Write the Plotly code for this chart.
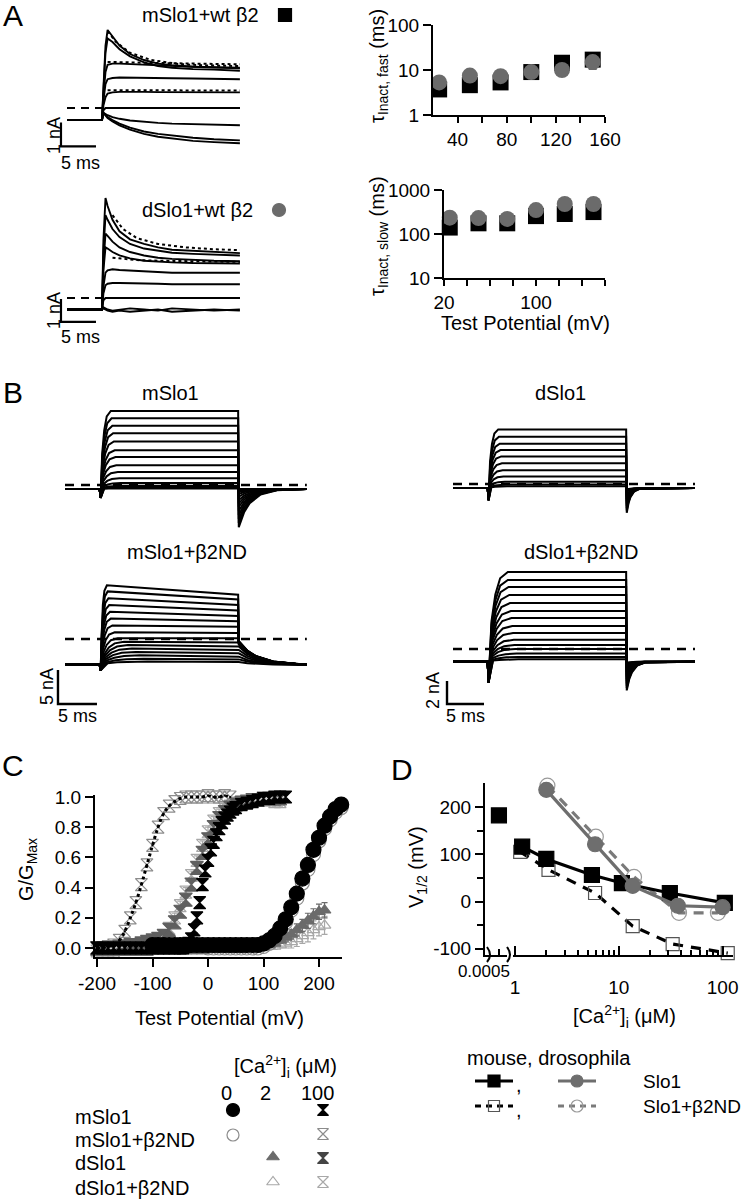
import plotly.graph_objects as go

W, H = 746, 1200
FONT = "Arial, Liberation Sans, Helvetica, sans-serif"
TXT = 20
TICK = 19

# ================= DATA =================
# ---- Panel A: example current traces (time ms, current nA) ----
A_time = [0, 5.0, 5.2, 5.5, 5.8, 6.5, 7.5, 9, 11, 13, 15, 18, 21, 24.7]
A_mslo1_wtb2 = [
    [-0.5, -0.5, 0.8, 2.6, 3.25, 3.0, 2.6, 2.25, 2.0, 1.85, 1.78, 1.72, 1.7, 1.65],
    [-0.5, -0.5, 0.7, 2.3, 2.9, 2.75, 2.45, 2.15, 1.9, 1.75, 1.68, 1.62, 1.6, 1.55],
    [-0.5, -0.5, 0.5, 1.5, 1.8, 1.85, 1.85, 1.83, 1.8, 1.78, 1.75, 1.72, 1.7, 1.68],
    [-0.5, -0.5, 0.3, 1.0, 1.2, 1.25, 1.27, 1.27, 1.25, 1.25, 1.24, 1.23, 1.22, 1.2],
    [-0.5, -0.5, 0.1, 0.45, 0.6, 0.65, 0.67, 0.68, 0.67, 0.66, 0.66, 0.65, 0.65, 0.65],
    [-0.5, -0.5, -0.1, 0.0, 0.0, 0.0, 0.0, 0.0, 0.0, 0.0, 0.0, 0.0, 0.0, 0.0],
    [-0.5, -0.5, -0.2, -0.25, -0.3, -0.38, -0.45, -0.52, -0.58, -0.62, -0.65, -0.68, -0.7, -0.72],
    [-0.5, -0.5, -0.2, -0.3, -0.38, -0.5, -0.65, -0.82, -0.98, -1.08, -1.15, -1.24, -1.3, -1.35],
    [-0.5, -0.5, -0.2, -0.32, -0.42, -0.56, -0.72, -0.9, -1.08, -1.2, -1.28, -1.37, -1.42, -1.47],
]
A_mslo1_fit_t = [5.8, 7, 9, 12, 16, 20, 24.7]
A_mslo1_fits = [
    [3.2, 2.75, 2.3, 2.0, 1.83, 1.77, 1.75],
    [1.92, 1.92, 1.9, 1.88, 1.86, 1.84, 1.82],
    [0.74, 0.74, 0.74, 0.73, 0.73, 0.73, 0.73],
]
A_dslo1_wtb2 = [
    [-0.5, -0.5, 2.5, 4.35, 4.0, 3.4, 2.9, 2.55, 2.35, 2.2, 2.1, 2.05, 2.0, 1.95],
    [-0.5, -0.5, 2.0, 3.6, 3.4, 3.0, 2.65, 2.35, 2.15, 2.05, 1.97, 1.92, 1.9, 1.85],
    [-0.5, -0.5, 1.5, 2.8, 2.7, 2.45, 2.2, 2.0, 1.85, 1.75, 1.7, 1.65, 1.62, 1.6],
    [-0.5, -0.5, 1.2, 2.2, 2.15, 2.0, 1.85, 1.72, 1.62, 1.57, 1.55, 1.52, 1.5, 1.5],
    [-0.5, -0.5, 0.5, 1.1, 1.2, 1.25, 1.22, 1.2, 1.18, 1.15, 1.1, 1.1, 1.1, 1.1],
    [-0.5, -0.5, 0.2, 0.55, 0.62, 0.65, 0.65, 0.65, 0.63, 0.62, 0.6, 0.6, 0.6, 0.6],
    [-0.5, -0.5, -0.1, 0.0, 0.0, 0.0, 0.0, 0.0, 0.0, 0.0, 0.0, 0.0, 0.0, 0.0],
    [-0.5, -0.5, -0.4, -0.45, -0.5, -0.55, -0.5, -0.45, -0.5, -0.55, -0.45, -0.5, -0.55, -0.5],
    [-0.5, -0.5, -0.45, -0.5, -0.55, -0.6, -0.55, -0.6, -0.55, -0.5, -0.6, -0.55, -0.5, -0.55],
]
A_dslo1_fit_t = [6.5, 8, 10, 13, 17, 21, 24.7]
A_dslo1_fits = [
    [3.6, 3.0, 2.6, 2.35, 2.2, 2.12, 2.08],
    [1.75, 1.7, 1.65, 1.62, 1.6, 1.58, 1.57],
]

# ---- Panel A: inactivation time constants ----
tau_V = [25, 50, 75, 100, 125, 150]
tau_fast_mslo1 = [3.7, 4.6, 5.3, 9.0, 14.5, 17.0]
tau_fast_dslo1 = [5.3, 7.5, 7.3, 9.0, 10.0, 15.0]
tau_fast_dslo1_err = [0.3, 0.5, 0.5, 0.5, 0.6, 4.5]
tau_slow_mslo1 = [140, 175, 175, 255, 285, 315]
tau_slow_dslo1 = [235, 230, 220, 350, 480, 480]

# ---- Panel B: current families (nA) ----
# protocol: [t_on, t_off, t_end] (ms); hold: [holding level, capacitive dip, tail decay (ms)]
B_mslo1_protocol = [4.49, 22.2, 31.0]
B_mslo1_hold = [-0.6, -1.9, 1.4]
B_mslo1_levels = [10.9, 9.8, 8.7, 7.6, 6.4, 5.1, 4.1, 2.9, 1.9, 1.0, 0.3, -0.1, -0.3, -0.5]
B_mslo1_rise = [1.3, 1.4, 1.5, 1.6, 1.7, 1.8, 1.9, 2.0, 2.2, 2.4, 2.6, 2.8, 3.0, 3.0]
B_mslo1_tail = [-6.2, -5.6, -5.0, -4.4, -3.8, -3.2, -2.7, -2.2, -1.7, -1.3, -1.0, -0.8, -0.7, -0.6]

B_dslo1_protocol = [4.73, 23.4, 32.7]
B_dslo1_hold = [-0.35, -1.4, 0.5]
B_dslo1_levels = [4.75, 4.1, 3.5, 2.95, 2.4, 1.8, 1.2, 0.65, 0.2, -0.05, -0.2]
B_dslo1_rise = [1.3, 1.4, 1.5, 1.6, 1.7, 1.8, 1.9, 2.0, 2.2, 2.4, 2.5]
B_dslo1_tail = [-2.5, -2.3, -2.1, -1.9, -1.7, -1.5, -1.3, -1.1, -0.9, -0.7, -0.5]

B_mnd_protocol = [4.49, 22.2, 31.0]
B_mnd_hold = [-3.8, -4.6, 2.2]
B_mnd_start = [7.9, 7.0, 6.0, 5.0, 4.0, 3.0, 2.0, 1.0, 0.1, -0.4, -0.9, -1.4, -1.9, -2.4, -2.9, -3.3]
B_mnd_end = [6.5, 5.8, 5.0, 4.2, 3.4, 2.6, 1.8, 0.9, 0.1, -0.5, -1.1, -1.6, -2.1, -2.6, -3.0, -3.4]
B_mnd_rise = [0.8, 0.9, 1.0, 1.1, 1.2, 1.3, 1.5, 1.8, 2.2, 3.0, 3.5, 4.0, 4.5, 5.0, 5.5, 6.0]
B_mnd_tail = [-0.3, -0.35, -0.4, -0.45, -0.5, -0.55, -0.6, -0.7, -0.8, -0.5, -1.1, -1.6, -2.1, -2.6, -3.0, -3.4]

B_dnd_protocol = [4.73, 23.4, 32.7]
B_dnd_hold = [-1.1, -2.9, 0.7]
B_dnd_levels = [6.7, 6.0, 5.4, 4.7, 4.0, 3.3, 2.7, 2.0, 1.4, 0.8, 0.35, 0.0, -0.4, -0.7, -0.9]
B_dnd_rise = [2.6, 2.6, 2.7, 2.8, 2.9, 3.0, 3.1, 3.2, 3.3, 3.4, 3.5, 3.6, 3.8, 4.0, 4.0]
B_dnd_tail = [-3.6, -3.4, -3.2, -3.0, -2.8, -2.6, -2.4, -2.2, -2.0, -1.8, -1.6, -1.5, -1.4, -1.3, -1.2]

# shape of activation / tail relaxations (fraction of time, fraction of amplitude)
RISE_T = [0.15, 0.35, 0.6, 1.0]
RISE_F = [0.45, 0.75, 0.93, 1.0]
TAIL_T = [0.0, 0.5, 1.0, 2.0, 3.5]
TAIL_F = [1.0, 0.6, 0.37, 0.14, 0.03]

# ---- Panel C: G/Gmax vs test potential (mV) ----
C_V_m0 = list(range(-100, 250, 10))
C_G_m0 = [0.02, 0.02, 0.02, 0.02, 0.02, 0.02, 0.02, 0.02, 0.02, 0.02, 0.02, 0.02, 0.02, 0.02,
          0.02, 0.02, 0.02, 0.02, 0.02, 0.02, 0.03, 0.05, 0.08, 0.13, 0.19, 0.27, 0.36, 0.46,
          0.55, 0.65, 0.73, 0.81, 0.87, 0.92, 0.95]
C_V_mnd0 = list(range(0, 250, 10))
C_G_mnd0 = [0.0, 0.0, 0.0, 0.0, 0.0, 0.0, 0.0, 0.0, 0.0, 0.0, 0.01, 0.03, 0.06, 0.11, 0.17, 0.25,
            0.33, 0.43, 0.52, 0.62, 0.71, 0.79, 0.85, 0.9, 0.93]
C_V_d2 = list(range(-200, 220, 10))
C_G_d2 = [-0.03, -0.03, -0.03, -0.03, -0.03, -0.03, -0.03, -0.03, -0.03, -0.03,
          -0.02, -0.02, -0.02, -0.02, -0.02, -0.02, -0.02, -0.02, -0.02, -0.02,
          -0.01, -0.01, -0.01, -0.01, -0.01, -0.01, -0.01, 0.0, 0.0, 0.0,
          0.01, 0.02, 0.03, 0.05, 0.07, 0.09, 0.12, 0.15, 0.18, 0.21, 0.24, 0.25]
C_E_d2_high = [0.01, 0.01, 0.02, 0.02, 0.03, 0.03, 0.04, 0.04, 0.05, 0.05, 0.05, 0.05]
C_V_dnd2 = list(range(100, 220, 10))
C_G_dnd2 = [0.0, 0.01, 0.01, 0.02, 0.03, 0.04, 0.06, 0.08, 0.1, 0.12, 0.14, 0.15]
C_E_dnd2 = [0.01, 0.01, 0.02, 0.02, 0.03, 0.04, 0.05, 0.05, 0.06, 0.06, 0.06, 0.06]
C_V_m100 = list(range(-200, -40, 10)) + list(range(-45, 50, 5)) + list(range(50, 150, 10))
C_G_m100 = [0.0, 0.0, 0.0, 0.0, 0.0, 0.0, 0.0, 0.0, 0.0, 0.0, 0.0, 0.0, 0.0, 0.0, 0.0, 0.0,
            0.0, 0.01, 0.03, 0.06, 0.12, 0.2, 0.3, 0.42, 0.51, 0.58, 0.65, 0.7, 0.75, 0.79,
            0.83, 0.86, 0.88, 0.9, 0.92,
            0.93, 0.95, 0.96, 0.97, 0.98, 0.99, 0.99, 1.0, 1.0, 1.0]
C_V_mnd100 = list(range(-200, 50, 10))
C_G_mnd100 = [0.0, 0.0, 0.01, 0.02, 0.05, 0.11, 0.2, 0.3, 0.42, 0.55, 0.68, 0.8, 0.89, 0.94,
              0.97, 0.99, 1.0, 1.0, 1.0, 1.0, 1.01, 1.0, 1.0, 1.01, 1.0]
C_V_d100 = list(range(-200, 140, 10))
C_G_d100 = [0.0, 0.0, 0.0, 0.0, 0.01, 0.01, 0.02, 0.02, 0.03, 0.04, 0.05, 0.06, 0.08, 0.12,
            0.17, 0.24, 0.32, 0.42, 0.53, 0.63, 0.72, 0.8, 0.86, 0.9, 0.93, 0.95, 0.96, 0.97,
            0.98, 0.98, 0.99, 0.99, 0.99, 0.99]
C_V_dnd100 = list(range(-200, 140, 10))
C_G_dnd100 = [-0.02, -0.02, -0.02, -0.02, -0.01, -0.01, 0.0, 0.0, 0.01, 0.02, 0.03, 0.05, 0.08,
              0.13, 0.2, 0.28, 0.37, 0.48, 0.58, 0.68, 0.77, 0.84, 0.89, 0.92, 0.94, 0.96,
              0.97, 0.97, 0.98, 0.98, 0.98, 0.98, 0.97, 0.97]
C_ticks_x = [-200, -100, 0, 100, 200]
C_ticks_y = [0.0, 0.2, 0.4, 0.6, 0.8, 1.0]

# ---- Panel D: V1/2 (mV) vs [Ca2+]i (uM) ----
D_zero_ca = [0.0005]
D_zero_v = [182]
D_mouse_ca = [1.17, 2.0, 5.5, 10.7, 31, 105]
D_mouse_v = [116, 90, 56, 39, 18, -3]
D_mouse_nd_ca = [1.12, 2.1, 5.9, 13.6, 33, 112]
D_mouse_nd_v = [105, 67, 18, -52, -90, -109]
D_dros_ca = [2.0, 5.9, 13.6, 37, 100]
D_dros_v = [236, 121, 33, -9, -12]
D_dros_nd_ca = [2.05, 6.0, 14.0, 38, 90]
D_dros_nd_v = [245, 137, 52, -24, -24]

# ================= FIGURE =================
fig = go.Figure()
L = {}
ann = []
shapes = []


def dx(p0, p1):
    return [p0 / W, p1 / W]


def dy(top, bottom):
    return [1 - bottom / H, 1 - top / H]


def ref(i, k):
    return k + ("" if i == 1 else str(i))


def an(i, k):
    return k + "axis" + ("" if i == 1 else str(i))


def hidden(i, xdom, xrng, ydom, yrng):
    L[an(i, "x")] = dict(domain=xdom, range=xrng, visible=False, anchor=ref(i, "y"),
                         fixedrange=True, automargin=False)
    L[an(i, "y")] = dict(domain=ydom, range=yrng, visible=False, anchor=ref(i, "x"),
                         fixedrange=True, automargin=False)


AX = dict(showline=True, linecolor="black", linewidth=2, ticks="outside", tickwidth=2,
          tickcolor="black", ticklen=7, showgrid=False, zeroline=False, automargin=False,
          tickfont=dict(size=TICK, family=FONT, color="black"), fixedrange=True)


def lines(xs, ys, xa, ya, width=1.6, color="black", dash=None):
    fig.add_trace(go.Scatter(x=xs, y=ys, mode="lines", xaxis=xa, yaxis=ya,
                             line=dict(color=color, width=width, dash=dash),
                             hoverinfo="skip", showlegend=False, cliponaxis=False))


def txt(x, y, s, size=TXT, angle=0, xanchor="center"):
    ann.append(dict(x=x / W, y=1 - y / H, xref="paper", yref="paper", text=s, showarrow=False,
                    textangle=angle, xanchor=xanchor, yanchor="middle",
                    font=dict(size=size, family=FONT, color="black")))


# ---------- Panel A traces ----------
hidden(1, dx(55, 250), [(55 - 67) / 7, (250 - 67) / 7], dy(20, 160), [(108 - 160) / 24, (108 - 20) / 24])
hidden(2, dx(55, 250), [(55 - 67) / 7, (250 - 67) / 7], dy(190, 335), [(298 - 335) / 23, (298 - 190) / 23])

for i, (traces, ft, fits) in enumerate([(A_mslo1_wtb2, A_mslo1_fit_t, A_mslo1_fits),
                                        (A_dslo1_wtb2, A_dslo1_fit_t, A_dslo1_fits)], start=1):
    xa, ya = ref(i, "x"), ref(i, "y")
    lines([0, A_time[-1]], [0, 0], xa, ya, width=2.2, dash="8px 6px")
    for cur in traces:
        lines(A_time, cur, xa, ya, width=1.9)
    for f in fits:
        lines(ft, f, xa, ya, width=2, dash="dot")
    y_top = -0.6 if i == 1 else -0.04
    lines([-0.86, -0.86, 4.14], [y_top, y_top - 1, y_top - 1], xa, ya, width=2.2)

txt(54, 136, "1 nA", size=18, angle=-90)
txt(80, 163, "5 ms", size=18)
txt(54, 311, "1 nA", size=18, angle=-90)
txt(80, 337, "5 ms", size=18)
txt(200, 15, "mSlo1+wt β2")
txt(197, 210, "dSlo1+wt β2")

# ---------- Panel A tau plots ----------
L["xaxis3"] = dict(AX, domain=dx(433, 605), range=[20, 160], anchor="y3",
                   tickvals=[40, 80, 120, 160], ticklen=6,
                   minor=dict(tickvals=[60, 100, 140], ticks="outside", ticklen=6, tickwidth=2, tickcolor="black"))
L["yaxis3"] = dict(AX, domain=dy(25, 115), type="log", range=[0, 2], anchor="x3",
                   tickvals=[1, 10, 100], ticktext=["1", "10", "100"], ticklen=8)
L["xaxis4"] = dict(AX, domain=dx(444, 605), range=[20, 160], anchor="y4",
                   tickvals=[20, 100], ticklen=6,
                   minor=dict(tickvals=[40, 60, 80, 120, 140, 160], ticks="outside", ticklen=6, tickwidth=2,
                              tickcolor="black"))
L["yaxis4"] = dict(AX, domain=dy(190, 278), type="log", range=[1, 3], anchor="x4",
                   tickvals=[10, 100, 1000], ticktext=["10", "100", "1000"], ticklen=8)

fig.add_trace(go.Scatter(x=tau_V, y=tau_fast_mslo1, mode="markers", xaxis="x3", yaxis="y3",
                         marker=dict(symbol="square", size=16, color="black"), cliponaxis=False,
                         showlegend=False, hoverinfo="skip"))
fig.add_trace(go.Scatter(x=tau_V, y=tau_fast_dslo1, mode="markers", xaxis="x3", yaxis="y3",
                         error_y=dict(type="data", array=tau_fast_dslo1_err, color="#6b6b6b", thickness=2, width=4),
                         marker=dict(symbol="circle", size=16, color="#6b6b6b"), cliponaxis=False,
                         showlegend=False, hoverinfo="skip"))
fig.add_trace(go.Scatter(x=tau_V, y=tau_slow_mslo1, mode="markers", xaxis="x4", yaxis="y4",
                         marker=dict(symbol="square", size=16, color="black"), cliponaxis=False,
                         showlegend=False, hoverinfo="skip"))
fig.add_trace(go.Scatter(x=tau_V, y=tau_slow_dslo1, mode="markers", xaxis="x4", yaxis="y4",
                         marker=dict(symbol="circle", size=16, color="#6b6b6b"), cliponaxis=False,
                         showlegend=False, hoverinfo="skip"))
txt(378, 66, "τ<sub>Inact, fast</sub> (ms)", angle=-90)
txt(378, 236, "τ<sub>Inact, slow</sub> (ms)", angle=-90)
txt(525, 323, "Test Potential (mV)")

# ---------- Panel B ----------
hidden(5, dx(55, 315), [(55 - 65) / 7.8, (315 - 65) / 7.8], dy(400, 535), [(485 - 535) / 6.8, (485 - 400) / 6.8])
hidden(6, dx(440, 705), [(440 - 453) / 7.4, (705 - 453) / 7.4], dy(415, 525), [(484 - 525) / 11.5, (484 - 415) / 11.5])
hidden(7, dx(50, 315), [(50 - 65) / 7.8, (315 - 65) / 7.8], dy(570, 715), [(639 - 715) / 6.8, (639 - 570) / 6.8])
hidden(8, dx(430, 705), [(430 - 453) / 7.4, (705 - 453) / 7.4], dy(560, 715), [(649 - 715) / 11.5, (649 - 560) / 11.5])


def build(protocol, hold, lvl0, lvl1, rise, tail0):
    t_on, t_off, t_end = protocol
    base, dip, tau = hold
    ts = [0.0, t_on - 0.05, t_on + 0.08]
    cs = [base, base, dip]
    for ft, ff in zip(RISE_T, RISE_F):
        ts.append(t_on + 0.08 + ft * rise)
        cs.append(base + ff * (lvl0 - base))
    ts.append(t_off)
    cs.append(lvl1)
    for ft, ff in zip(TAIL_T, TAIL_F):
        t = t_off + 0.08 + ft * tau
        if t < t_end:
            ts.append(t)
            cs.append(base + ff * (tail0 - base))
    ts.append(t_end)
    cs.append(base)
    return ts, cs


panels_B = [
    (5, B_mslo1_protocol, B_mslo1_hold, B_mslo1_levels, B_mslo1_levels, B_mslo1_rise, B_mslo1_tail),
    (6, B_dslo1_protocol, B_dslo1_hold, B_dslo1_levels, B_dslo1_levels, B_dslo1_rise, B_dslo1_tail),
    (7, B_mnd_protocol, B_mnd_hold, B_mnd_start, B_mnd_end, B_mnd_rise, B_mnd_tail),
    (8, B_dnd_protocol, B_dnd_hold, B_dnd_levels, B_dnd_levels, B_dnd_rise, B_dnd_tail),
]
for i, prot, hold, l0s, l1s, rises, tails in panels_B:
    xa, ya = ref(i, "x"), ref(i, "y")
    for l0, l1, r, tl in zip(l0s, l1s, rises, tails):
        ts, cs = build(prot, hold, l0, l1, r, tl)
        lines(ts, cs, xa, ya, width=2)
    lines([0, prot[2]], [0, 0], xa, ya, width=2.6, dash="9px 7px")

lines([-0.9, -0.9, 4.1], [-4.56, -9.56, -9.56], "x7", "y7", width=2.4)
lines([-0.81, -0.81, 4.19], [-2.78, -4.78, -4.78], "x8", "y8", width=2.4)
txt(47, 687, "5 nA", size=18, angle=-90)
txt(77, 716, "5 ms", size=18)
txt(433, 691, "2 nA", size=18, angle=-90)
txt(465, 716, "5 ms", size=18)
txt(170, 393, "mSlo1")
txt(560, 393, "dSlo1")
txt(187, 552, "mSlo1+β2ND")
txt(581, 552, "dSlo1+β2ND")

# ---------- Panel C ----------
L["xaxis9"] = dict(AX, domain=dx(95, 342), range=[(95 - 208) / 0.555, (342 - 208) / 0.555], anchor="y9",
                   tickvals=C_ticks_x, ticktext=["-200", "-100", "0", "100", "200"], ticklen=8)
L["yaxis9"] = dict(AX, domain=dy(795, 957), range=[(948 - 957) / 151, (948 - 795) / 151], anchor="x9",
                   tickvals=C_ticks_y, ticktext=["0.0", "0.2", "0.4", "0.6", "0.8", "1.0"], ticklen=8)


def cpts(xs, ys, sym, size, color, err=None, dotline=None):
    kw = {}
    if err is not None:
        kw["error_y"] = err
    mode = "markers" if dotline is None else "lines+markers"
    fig.add_trace(go.Scatter(
        x=xs, y=ys, mode=mode, xaxis="x9", yaxis="y9",
        line=dict(color=dotline or "black", width=3, dash="dot", shape="spline"),
        marker=dict(symbol=sym, size=size, color=color, line=dict(color=color, width=1.2)),
        cliponaxis=False, showlegend=False, hoverinfo="skip", **kw))


cpts(C_V_dnd100, C_G_dnd100, "hourglass-open", 12, "#a8a8a8",
     err=dict(type="constant", value=0.03, color="#a8a8a8", thickness=1.2, width=3))
cpts(C_V_mnd100, C_G_mnd100, "hourglass-open", 12, "#8c8c8c")
cpts(C_V_dnd2, C_G_dnd2, "triangle-up-open", 11, "#a8a8a8",
     err=dict(type="data", array=C_E_dnd2, color="#a8a8a8", thickness=1.2, width=3))
cpts(C_V_mnd0, C_G_mnd0, "circle-open", 14, "#8c8c8c")
cpts(C_V_d2, C_G_d2, "triangle-up", 11, "#6b6b6b",
     err=dict(type="data", array=[0] * 30 + C_E_d2_high, color="#6b6b6b", thickness=1.2, width=3))
cpts(C_V_d100, C_G_d100, "hourglass", 13, "#5f5f5f", dotline="#d0d0d0")
cpts(C_V_m100, C_G_m100, "hourglass", 12, "black")
cpts(C_V_mnd100, C_G_mnd100, "circle", 1, "black", dotline="black")
cpts(C_V_m0, C_G_m0, "circle", 15, "black")

txt(27, 870, "G/G<sub>Max</sub>", angle=-90)
txt(220, 1018, "Test Potential (mV)")

# ---------- Panel D ----------
L["xaxis10"] = dict(AX, domain=dx(513, 733), type="log", range=[-0.02, 2.1], anchor="y10",
                    tickvals=[1, 10, 100], ticktext=["1", "10", "100"], ticks="inside", ticklen=9,
                    ticklabelstandoff=14,
                    minor=dict(tickvals=[2, 3, 4, 5, 6, 7, 8, 9, 20, 30, 40, 50, 60, 70, 80, 90],
                               ticks="inside", ticklen=5, tickwidth=2, tickcolor="black"))
L["xaxis12"] = dict(domain=dx(513, 733), type="log", range=[-0.02, 2.1], anchor="y10", overlaying="x10",
                    tickvals=[2, 4, 6, 20, 40, 60], ticktext=["2", "4", "6", "2", "4", "6"],
                    ticks="", showline=False, showgrid=False, zeroline=False, fixedrange=True,
                    automargin=False, tickfont=dict(size=14, family=FONT, color="black"))
L["xaxis11"] = dict(AX, domain=dx(485, 507), range=[0, 0.00079], anchor="y10",
                    tickvals=[0.0005], ticktext=["0.0005"], ticks="inside", ticklen=6,
                    ticklabelshift=-15, tickfont=dict(size=17, family=FONT, color="black"))
L["yaxis10"] = dict(AX, domain=dy(783, 955), range=[(901.5 - 955) / 0.473, (901.5 - 783) / 0.473],
                    anchor="x11", tickvals=[-100, 0, 100, 200], ticktext=["-100", "0", "100", "200"],
                    ticklen=8,
                    minor=dict(tickvals=[-50, 50, 150], ticks="outside", ticklen=6, tickwidth=2,
                               tickcolor="black"))


def dser(xs, ys, color, dash, sym, size, mcolor, xa="x10", mode="lines+markers"):
    fig.add_trace(go.Scatter(x=xs, y=ys, mode=mode, xaxis=xa, yaxis="y10",
                             line=dict(color=color, width=3.2, dash=dash),
                             marker=dict(symbol=sym, size=size, color=mcolor,
                                         line=dict(color=mcolor, width=1.2)),
                             cliponaxis=False, showlegend=False, hoverinfo="skip"))


dser(D_dros_nd_ca, D_dros_nd_v, "#7a7a7a", "10px 8px", "circle-open", 15, "#9a9a9a")
dser(D_mouse_nd_ca, D_mouse_nd_v, "black", "10px 8px", "square-open", 13, "#555555")
dser(D_mouse_ca, D_mouse_v, "black", "solid", "square", 15, "black")
dser(D_dros_ca, D_dros_v, "#6e6e6e", "solid", "circle", 15, "#6e6e6e")
dser(D_zero_ca, D_zero_v, "black", "solid", "square", 15, "black", xa="x11", mode="markers")

txt(417, 867, "V<sub>1/2</sub> (mV)", angle=-90)
txt(624, 1016, "[Ca<sup>2+</sup>]<sub>i</sub> (μM)")

# ---------- pixel canvas for legend keys and decorations ----------
L["xaxis13"] = dict(domain=[0, 1], range=[0, W], visible=False, anchor="y13", fixedrange=True, automargin=False)
L["yaxis13"] = dict(domain=[0, 1], range=[H, 0], visible=False, anchor="x13", fixedrange=True, automargin=False)


def key(x, y, sym, size, color):
    fig.add_trace(go.Scatter(x=[x], y=[y], mode="markers", xaxis="x13", yaxis="y13",
                             marker=dict(symbol=sym, size=size, color=color, line=dict(color=color, width=1.2)),
                             showlegend=False, hoverinfo="skip", cliponaxis=False))


def keyline(x0, x1, y, color, dash=None):
    fig.add_trace(go.Scatter(x=[x0, x1], y=[y, y], mode="lines", xaxis="x13", yaxis="y13",
                             line=dict(color=color, width=3.2, dash=dash),
                             showlegend=False, hoverinfo="skip", cliponaxis=False))


key(285, 15, "square", 13, "black")
key(279, 210, "circle", 13, "#6b6b6b")

key(233, 1110, "circle", 13, "black")
key(233, 1135, "circle-open", 12, "#8c8c8c")
key(273, 1157, "triangle-up", 11, "#6b6b6b")
key(273, 1182, "triangle-up-open", 11, "#a8a8a8")
key(323, 1110, "hourglass", 11, "black")
key(323, 1134, "hourglass-open", 11, "#8c8c8c")
key(323, 1158, "hourglass", 11, "#444444")
key(323, 1182, "hourglass-open", 11, "#a8a8a8")
txt(285, 1066, "[Ca<sup>2+</sup>]<sub>i</sub> (μM)")
txt(227, 1093, "0")
txt(265, 1093, "2")
txt(317, 1093, "100")
txt(73, 1117, "mSlo1", xanchor="left")
txt(73, 1140, "mSlo1+β2ND", xanchor="left")
txt(73, 1163, "dSlo1", xanchor="left")
txt(73, 1188, "dSlo1+β2ND", xanchor="left")

keyline(475, 513, 1081, "black")
key(494, 1081, "square", 12, "black")
keyline(558, 596, 1081, "#6e6e6e")
key(577, 1081, "circle", 12, "#6e6e6e")
keyline(475, 513, 1106, "black", dash="6px 5px")
key(494, 1106, "square-open", 11, "#555555")
keyline(558, 596, 1106, "#7a7a7a", dash="6px 5px")
key(577, 1106, "circle-open", 12, "#9a9a9a")
txt(549, 1058, "mouse, drosophila")
txt(519, 1085, ",")
txt(519, 1110, ",")
txt(641, 1081, "Slo1", size=19, xanchor="left")
txt(641, 1106, "Slo1+β2ND", size=19, xanchor="left")

for bx in (489, 509):
    shapes.append(dict(type="path", xref="x13", yref="y13",
                       path=f"M {bx - 2},962 Q {bx + 4},955 {bx - 2},947",
                       line=dict(color="black", width=2)))

txt(13, 16, "A", size=30)
txt(13, 392, "B", size=30)
txt(13, 765, "C", size=30)
txt(402, 769, "D", size=30)

fig.update_layout(
    template="none",
    width=W, height=H, autosize=False,
    margin=dict(l=0, r=0, t=0, b=0, pad=0, autoexpand=False),
    paper_bgcolor="white", plot_bgcolor="rgba(0,0,0,0)",
    font=dict(family=FONT, size=TXT, color="black"),
    showlegend=False, annotations=ann, shapes=shapes, **L)

fig.write_html("out.html", config={"displayModeBar": False, "staticPlot": True},
               post_script="document.body.style.margin='0';document.body.style.overflow='hidden';")
